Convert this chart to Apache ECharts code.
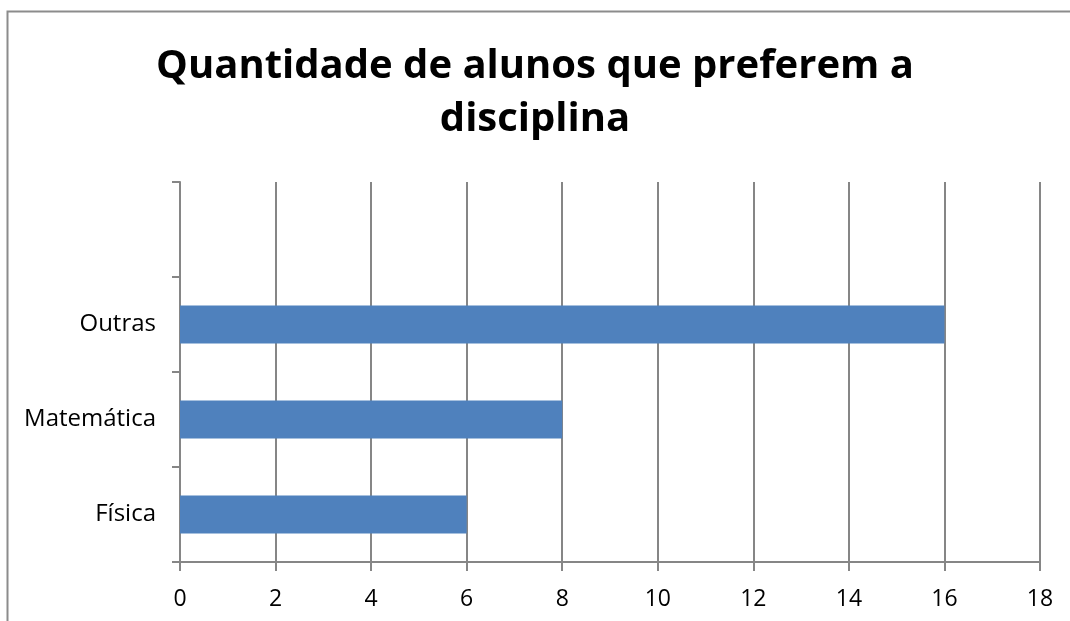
<!DOCTYPE html>
<html>
<head>
<meta charset="utf-8">
<script src="https://cdn.jsdelivr.net/npm/echarts@6/dist/echarts.min.js"></script>
<style>
  html, body { margin: 0; padding: 0; background: #fff; }
  #chart { width: 1070px; height: 621px; }
</style>
</head>
<body>
<div id="chart"></div>
<script>
  // dados do gráfico
  var categorias = ['Física', 'Matemática', 'Outras', ''];
  var alunos = [6, 8, 16, null];
  var xTicks = [0, 2, 4, 6, 8, 10, 12, 14, 16, 18];

  var myChart = echarts.init(document.getElementById('chart'));

  var option = {
    backgroundColor: '#fff',
    animation: false,
    title: {
      text: 'Quantidade de alunos que preferem a\ndisciplina',
      left: 'center',
      top: 35,
      textStyle: {
        fontFamily: 'Open Sans',
        fontWeight: 'bold',
        fontSize: 40,
        lineHeight: 53,
        color: '#000'
      }
    },
    graphic: [
      {
        type: 'rect',
        shape: { x: 7.5, y: 11.5, width: 1200, height: 800 },
        style: { fill: 'none', stroke: '#8c8c8c', lineWidth: 2 },
        silent: true
      }
    ],
    grid: {
      left: 180,
      right: 30,
      top: 182,
      bottom: 59
    },
    xAxis: {
      type: 'value',
      min: xTicks[0],
      max: xTicks[xTicks.length - 1],
      interval: 2,
      axisLine: { show: true, lineStyle: { color: '#868686', width: 2 } },
      axisTick: { show: true, length: 9, lineStyle: { color: '#868686', width: 2 } },
      axisLabel: {
        margin: 26,
        fontFamily: 'Open Sans',
        fontSize: 23,
        color: '#000'
      },
      splitLine: { show: true, lineStyle: { color: '#868686', width: 2 } }
    },
    yAxis: {
      type: 'category',
      data: categorias,
      axisLine: { show: true, lineStyle: { color: '#868686', width: 2 } },
      axisTick: { show: true, length: 8, lineStyle: { color: '#868686', width: 2 } },
      axisLabel: {
        margin: 24,
        fontFamily: 'Open Sans',
        fontSize: 24,
        color: '#000'
      }
    },
    series: [
      {
        name: 'Alunos',
        type: 'bar',
        barWidth: '40%',
        itemStyle: { color: '#4F81BD' },
        data: alunos
      }
    ]
  };

  option && myChart.setOption(option);
</script>
</body>
</html>
